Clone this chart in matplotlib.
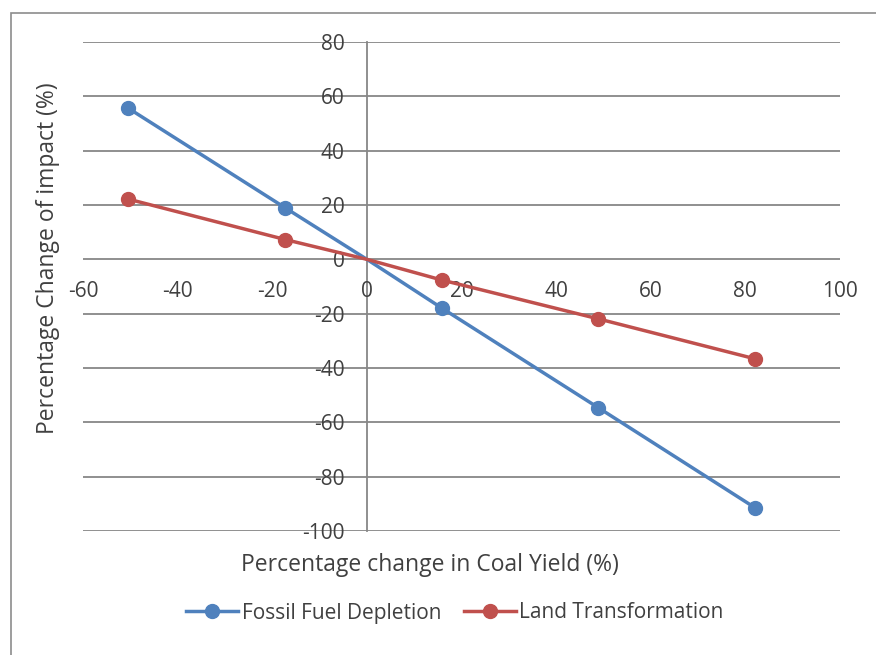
import matplotlib.pyplot as plt
from matplotlib.patches import Rectangle

coal_yield_change = [-50.5, -17.3, 0, 15.8, 48.9, 82.0]
fossil_fuel_depletion = [55.7, 19.0, 0, -17.9, -54.6, -91.4]
land_transformation = [22.2, 7.3, 0, -7.6, -21.9, -36.6]
# the baseline point (0, 0) carries no marker
marked = [0, 1, 3, 4, 5]

x_ticks = [-60, -40, -20, 0, 20, 40, 60, 80, 100]
y_ticks = [-100, -80, -60, -40, -20, 0, 20, 40, 60, 80]

blue = '#4F81BD'
red = '#C0504D'
grid_gray = '#878787'
text_color = '#404040'

plt.rcParams['font.family'] = ['Open Sans', 'DejaVu Sans']
plt.rcParams['axes.unicode_minus'] = False

W, H = 876, 655
fig = plt.figure(figsize=(W / 100, H / 100), dpi=100)

# outer chart border
fig.patches.append(Rectangle((11 / W, -0.01), 1.0, 1 - 13 / H + 0.01,
                             transform=fig.transFigure, fill=False,
                             edgecolor='#8c8c8c', linewidth=1.2))

ax = fig.add_axes([83 / W, 1 - 531 / H, (840 - 83) / W, (531 - 42) / H])
ax.set_xlim(-60, 100)
ax.set_ylim(-100, 80)

for s in ['top', 'right', 'bottom']:
    ax.spines[s].set_visible(False)
ax.spines['left'].set_position(('data', 0))
ax.spines['left'].set_color(grid_gray)
ax.spines['left'].set_linewidth(1.3)

tick_size = 15
ax.set_xticks(x_ticks)
ax.set_yticks(y_ticks)
ax.yaxis.grid(True, color=grid_gray, linewidth=1.3)
ax.set_axisbelow(True)
ax.tick_params(axis='y', length=0, pad=16, labelsize=tick_size, labelcolor=text_color)
ax.tick_params(axis='x', length=0, pad=0, labelsize=tick_size, labelcolor=text_color)
# x tick labels sit just under the zero line
ax.set_xticklabels([])
for xv in x_ticks:
    ax.text(xv, -7.8, str(xv), ha='center', va='top', fontsize=tick_size,
            color=text_color)

ax.plot(coal_yield_change, fossil_fuel_depletion, color=blue, linewidth=2.5,
        marker='o', markersize=10, markevery=marked,
        label='Fossil Fuel Depletion', clip_on=False, zorder=3)
ax.plot(coal_yield_change, land_transformation, color=red, linewidth=2.5,
        marker='o', markersize=10, markevery=marked,
        label='Land Transformation', clip_on=False, zorder=3)

fig.text(430 / W, 1 - 565 / H, 'Percentage change in Coal Yield (%)',
         ha='center', va='center', fontsize=16.5, color=text_color)
fig.text(48 / W, 1 - 258 / H, 'Percentage Change of impact (%)',
         ha='center', va='center', rotation=90, fontsize=16.5, color=text_color)

fig.legend(loc='center', bbox_to_anchor=(455 / W, 1 - 613 / H), ncol=2,
           frameon=False, fontsize=15, handlelength=2.5, handletextpad=0.15,
           columnspacing=1.1, labelcolor=text_color)

fig.savefig('out.png', dpi=100)
